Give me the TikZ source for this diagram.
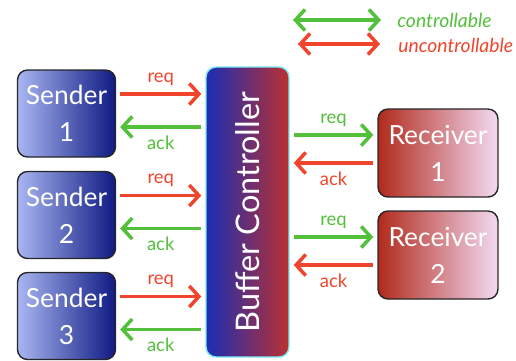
\documentclass[tikz,border=0pt]{standalone}
\usepackage{fontspec}
\setmainfont{Lato}
\usetikzlibrary{arrows.meta}

\definecolor{okgreen}{HTML}{52C03A}
\definecolor{badred}{HTML}{F0452C}
\definecolor{sendlight}{HTML}{A9B6F2}
\definecolor{senddark}{HTML}{0E1A82}
\definecolor{recvdark}{HTML}{B12A1C}
\definecolor{recvlight}{HTML}{F3DAF3}
\definecolor{bufblue}{HTML}{1A2EB4}
\definecolor{bufred}{HTML}{BA3030}
\definecolor{bufedge}{HTML}{78E8F2}

\tikzstyle{sender}=[
    rectangle,
    rounded corners=0.2cm,
    thick,
    draw=black!85,
    minimum width=1.96cm,
    minimum height=1.74cm,
    left color=sendlight,
    right color=senddark,
    text=white,
    align=center,
    font=\fontsize{15}{21}\selectfont
]
\tikzstyle{receiver}=[
    rectangle,
    rounded corners=0.2cm,
    thick,
    draw=black!85,
    minimum width=2.4cm,
    minimum height=1.76cm,
    left color=recvdark,
    right color=recvlight,
    text=white,
    align=center,
    font=\fontsize{15}{21}\selectfont
]
\tikzstyle{buffer}=[
    rectangle,
    rounded corners=0.2cm,
    thick,
    draw=bufedge,
    minimum width=1.66cm,
    minimum height=5.8cm,
    left color=bufblue,
    right color=bufred,
    text=white,
    font=\fontsize{18.5}{22}\selectfont
]
\tikzstyle{ctrl}=[
    draw=okgreen,
    line width=2pt,
    shorten <=0.08cm,
    shorten >=0.08cm,
    -{Straight Barb[length=5.5pt,width=12pt]}
]
\tikzstyle{unctrl}=[
    draw=badred,
    line width=2pt,
    shorten <=0.08cm,
    shorten >=0.08cm,
    -{Straight Barb[length=5.5pt,width=12pt]}
]
\tikzstyle{tag}=[
    font=\fontsize{10.5}{12}\selectfont,
    inner sep=1pt
]

\begin{document}
\begin{tikzpicture}[x=0.02cm,y=-0.02cm]
    \useasboundingbox (0,0) rectangle (516,360);

    % SENDERS
    \node (s_1) [sender] at (66.5,113.5) {Sender\\1};
    \node (s_2) [sender] at (66.5,215) {Sender\\2};
    \node (s_3) [sender] at (66.5,316) {Sender\\3};

    % BUFFER
    \node (bc) [buffer] at (247.5,212) {\rotatebox{90}{Buffer Controller}};

    % RECEIVERS
    \node (r_1) [receiver] at (438,153) {Receiver\\1};
    \node (r_2) [receiver] at (438,255) {Receiver\\2};

    % anchor points for the wires
    \foreach \i in {1,2,3} {
        \coordinate (s_\i q) at ([yshift=0.39cm]s_\i.east);
        \coordinate (s_\i a) at ([yshift=-0.27cm]s_\i.east);
    }
    \foreach \i in {1,2} {
        \coordinate (r_\i q) at ([yshift=0.36cm]r_\i.west);
        \coordinate (r_\i a) at ([yshift=-0.2cm]r_\i.west);
    }

    \path
    % Sender requests
    (s_1q) edge[unctrl] node[tag, text=badred, above=3pt] {req} (s_1q -| bc.west)
    (s_2q) edge[unctrl] node[tag, text=badred, above=3pt] {req} (s_2q -| bc.west)
    (s_3q) edge[unctrl] node[tag, text=badred, above=3pt] {req} (s_3q -| bc.west)

    % Acks back to senders
    (s_1a -| bc.west) edge[ctrl] node[tag, text=okgreen, below=3pt] {ack} (s_1a)
    (s_2a -| bc.west) edge[ctrl] node[tag, text=okgreen, below=3pt] {ack} (s_2a)
    (s_3a -| bc.west) edge[ctrl] node[tag, text=okgreen, below=3pt] {ack} (s_3a)

    % Requests to receivers
    (r_1q -| bc.east) edge[ctrl] node[tag, text=okgreen, above=3pt] {req} (r_1q)
    (r_2q -| bc.east) edge[ctrl] node[tag, text=okgreen, above=3pt] {req} (r_2q)

    % Acks from receivers
    (r_1a) edge[unctrl] node[tag, text=badred, below=3pt] {ack} (r_1a -| bc.east)
    (r_2a) edge[unctrl] node[tag, text=badred, below=3pt] {ack} (r_2a -| bc.east)
    ;

    % LEGEND
    \coordinate (g_l) at (293,20);
    \coordinate (g_r) at (381,20);
    \coordinate (u_l) at (298,44);
    \coordinate (u_r) at (380,44);
    \path
    (g_l) edge[ctrl, shorten <=0pt, shorten >=0pt, {Straight Barb[length=5.5pt,width=12pt]}-{Straight Barb[length=5.5pt,width=12pt]}] (g_r)
    (u_l) edge[unctrl, shorten <=0pt, shorten >=0pt, {Straight Barb[length=5.5pt,width=12pt]}-{Straight Barb[length=5.5pt,width=12pt]}] (u_r);
    \node (ctl) [anchor=west, text=okgreen, font=\fontsize{11}{13}\selectfont\itshape, inner sep=0pt] at (397,20) {controllable};
    \node (unctl) [anchor=west, text=badred, font=\fontsize{11}{13}\selectfont\itshape, inner sep=0pt] at (398,45) {uncontrollable};
\end{tikzpicture}
\end{document}
